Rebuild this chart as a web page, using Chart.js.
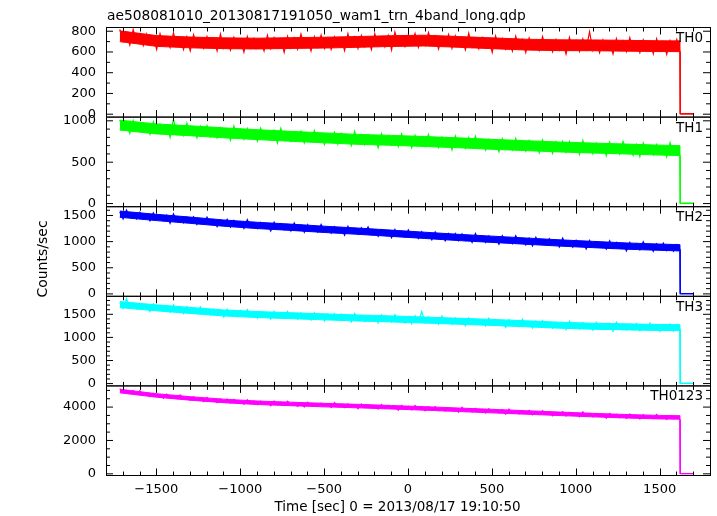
<!DOCTYPE html>
<html>
<head>
<meta charset="utf-8">
<script src="https://cdn.jsdelivr.net/npm/chart.js@4.4.1/dist/chart.umd.min.js"></script>
<style>
  html, body { margin: 0; padding: 0; background: #fff; }
  #wrap { position: relative; width: 717px; height: 516px; }
  #wrap canvas { position: absolute; left: 0; top: 0; }
</style>
</head>
<body>
<div id="wrap">
  <canvas id="c0" width="717" height="516"></canvas>
  <canvas id="c1" width="717" height="516"></canvas>
  <canvas id="c2" width="717" height="516"></canvas>
  <canvas id="c3" width="717" height="516"></canvas>
  <canvas id="c4" width="717" height="516"></canvas>
</div>
<script>
// noisy light curve: upper and lower excursion per 40 s bin (the low one 20 s later)
const binStart = -1718;
const binWidth = 40;

const th0Hi = [
  817,780,816,773,774,743,777,744,784,735, 745,766,723,750,732,773,723,742,719,750,
  730,710,760,738,723,750,732,772,721,748, 762,730,744,730,776,742,760,732,776,744,
  759,792,747,764,778,750,787,752,737,769, 757,732,781,732,739,718,755,729,716,753,
  718,735,702,749,705,720,701,740,711,726, 795,703,715,695,729,706,738,695,717,699,
  728,695,710,720
];
const th0Lo = [
  700,666,699,662,677,625,666,643,666,624, 612,652,635,655,611,639,619,647,598,640,
  642,609,633,650,596,639,627,651,610,647, 635,626,659,613,656,634,652,624,665,650,
  619,668,652,682,645,662,673,628,662,636, 665,621,647,631,648,597,647,628,609,636,
  594,628,614,635,601,619,580,629,606,625, 615,592,630,581,619,605,621,594,622,582,
  610,578,616,596
];
const th1Hi = [
  1011,979,1005,976,947,990,960,937,1020,935, 973,912,935,944,904,913,892,937,893,907,
  870,912,873,883,910,854,864,877,846,884, 845,827,863,848,820,873,821,828,805,844,
  818,804,843,806,824,786,836,787,802,778, 817,781,796,816,764,774,749,785,757,789,
  741,761,741,769,731,746,753,750,716,763, 721,730,702,742,708,751,700,711,734,685,
  714,694,737,682
];
const th1Lo = [
  909,849,885,881,838,853,865,800,842,823, 843,793,826,807,792,822,765,807,777,791,
  754,792,771,732,777,752,776,733,751,761, 712,746,719,750,700,729,712,730,675,728,
  709,688,717,673,708,691,713,675,693,648, 697,669,687,672,645,683,626,665,648,663,
  632,659,614,643,605,644,620,624,593,636, 602,624,576,623,599,625,581,567,611,590,
  612,564,593,570
];
const th2Hi = [
  1565,1604,1552,1559,1516,1551,1504,1507,1530,1466, 1469,1476,1436,1468,1421,1396,1427,1407,1373,1421,
  1362,1365,1336,1372,1340,1322,1357,1313,1327,1283, 1329,1275,1286,1258,1294,1254,1264,1282,1223,1230,
  1200,1232,1198,1226,1172,1189,1163,1187,1143,1153, 1156,1149,1110,1153,1106,1110,1078,1114,1075,1115,
  1057,1065,1083,1029,1054,1029,1069,1009,1025,994, 1024,996,968,1016,985,961,985,959,998,936,
  960,970,929,940
];
const th2Lo = [
  1435,1471,1434,1441,1397,1428,1399,1352,1393,1361, 1379,1328,1339,1342,1285,1313,1279,1306,1250,1274,
  1250,1264,1203,1253,1228,1203,1228,1177,1208,1186, 1203,1160,1175,1124,1171,1139,1153,1134,1101,1136,
  1074,1109,1087,1097,1060,1084,1033,1058,1014,1049, 1019,1019,984,1023,984,1002,948,992,963,985,
  935,917,957,932,950,896,922,894,920,860, 901,899,857,876,888,821,863,844,864,814,
  848,830,814,846
];
const th3Hi = [
  1751,1840,1734,1732,1697,1729,1691,1669,1703,1655, 1666,1618,1663,1603,1611,1577,1613,1573,1584,1604,
  1544,1553,1526,1562,1531,1563,1509,1531,1507,1536, 1493,1507,1513,1508,1469,1517,1471,1478,1448,1489,
  1451,1496,1438,1448,1469,1560,1444,1421,1464,1403, 1421,1389,1422,1394,1367,1418,1386,1361,1385,1357,
  1396,1330,1354,1363,1319,1328,1304,1352,1307,1320, 1283,1327,1287,1299,1330,1270,1283,1299,1266,1309,
  1269,1252,1291,1278
];
const th3Lo = [
  1624,1644,1617,1627,1558,1605,1575,1545,1568,1512, 1542,1516,1531,1483,1494,1438,1486,1452,1468,1450,
  1416,1455,1394,1434,1414,1428,1393,1422,1372,1400, 1358,1398,1370,1373,1338,1382,1343,1365,1312,1361,
  1334,1360,1310,1294,1338,1314,1335,1282,1310,1283, 1312,1250,1294,1293,1250,1272,1284,1215,1257,1236,
  1257,1202,1237,1216,1199,1230,1169,1213,1183,1196, 1159,1200,1178,1137,1187,1161,1189,1145,1165,1178,
  1126,1165,1137,1172
];
const th0123Hi = [
  5104,5001,4984,4981,4846,4824,4747,4777,4698,4724, 4607,4618,4556,4583,4490,4491,4484,4462,4384,4449,
  4359,4359,4302,4363,4292,4360,4258,4269,4299,4204, 4246,4202,4271,4165,4191,4135,4184,4133,4081,4161,
  4103,4058,4094,4043,4104,3990,4025,4034,3955,3964, 3917,3988,3904,3919,3847,3912,3833,3842,3883,3773,
  3782,3797,3731,3790,3712,3671,3723,3689,3629,3713, 3609,3613,3562,3623,3565,3532,3595,3522,3548,3475,
  3557,3466,3492,3450
];
const th0123Lo = [
  4891,4800,4790,4724,4633,4661,4528,4565,4504,4499, 4413,4436,4331,4357,4265,4310,4246,4237,4165,4224,
  4146,4172,4076,4150,4098,4134,4045,4013,4080,4035, 4064,3970,4014,3965,4009,3903,3972,3964,3887,3917,
  3934,3814,3881,3842,3872,3777,3831,3790,3755,3801, 3692,3757,3697,3712,3640,3699,3652,3573,3645,3591,
  3625,3541,3562,3571,3474,3527,3467,3513,3416,3456, 3415,3438,3330,3416,3371,3326,3370,3284,3342,3306,
  3338,3266,3298,3218
];

// solid core of each band, read every ~200 s
const coreTimes = [-1718, -1500, -1300, -1100, -900, -700, -500, -300, -100, 100, 300, 500, 700, 900, 1100, 1300, 1500, 1621];
const th0CoreHi = [804, 758, 744, 736, 733, 738, 742, 749, 757, 762, 749, 736, 723, 717, 716, 712, 708, 707];
const th0CoreLo = [700, 654, 640, 632, 629, 634, 638, 645, 653, 658, 645, 632, 619, 613, 612, 608, 604, 603];
const th1CoreHi = [1008, 962, 940, 915, 893, 873, 854, 836, 824, 810, 794, 776, 760, 744, 731, 719, 706, 700];
const th1CoreLo = [888, 842, 820, 795, 773, 753, 734, 716, 704, 690, 674, 656, 640, 624, 611, 599, 586, 580];
const th2CoreHi = [1585, 1522, 1470, 1415, 1370, 1335, 1295, 1260, 1220, 1180, 1140, 1105, 1070, 1035, 1005, 975, 953, 942];
const th2CoreLo = [1465, 1402, 1350, 1295, 1250, 1215, 1175, 1140, 1100, 1060, 1020, 985, 950, 915, 885, 855, 833, 822];
const th3CoreHi = [1775, 1705, 1650, 1595, 1560, 1535, 1510, 1485, 1465, 1440, 1415, 1390, 1360, 1330, 1307, 1293, 1280, 1275];
const th3CoreLo = [1645, 1575, 1520, 1465, 1430, 1405, 1380, 1355, 1335, 1310, 1285, 1260, 1230, 1200, 1177, 1163, 1150, 1145];
const th0123CoreHi = [5065, 4805, 4625, 4475, 4365, 4295, 4225, 4165, 4095, 4025, 3945, 3865, 3785, 3705, 3625, 3555, 3500, 3486];
const th0123CoreLo = [4855, 4595, 4415, 4265, 4155, 4085, 4015, 3955, 3885, 3815, 3735, 3655, 3575, 3495, 3415, 3345, 3290, 3276];

// after the drop, counts sit near zero
const tailTimes = [1622.5, 1700];
const tailLevels = [4, 3, 4, 5, 15];

const bandNames = ['TH0', 'TH1', 'TH2', 'TH3', 'TH0123'];
const bandHi = [th0Hi, th1Hi, th2Hi, th3Hi, th0123Hi];
const bandLo = [th0Lo, th1Lo, th2Lo, th3Lo, th0123Lo];
const coreHi = [th0CoreHi, th1CoreHi, th2CoreHi, th3CoreHi, th0123CoreHi];
const coreLo = [th0CoreLo, th1CoreLo, th2CoreLo, th3CoreLo, th0123CoreLo];
const bandColors = ['#ff0000', '#00ff00', '#0000ff', '#00ffff', '#ff00ff'];
const yMins = [-28, -38, -46, -50, -100];
const yMaxs = [836, 1045, 1668, 1890, 5270];
const yTickLabels = [
  [0, 200, 400, 600, 800],
  [0, 500, 1000],
  [0, 500, 1000, 1500],
  [0, 500, 1000, 1500],
  [0, 2000, 4000]
];
const yMinorSteps = [100, 100, 100, 100, 500];
const xTickLabels = [-1500, -1000, -500, 0, 500, 1000, 1500];

const plotTitle = 'ae508081010_20130817191050_wam1_trn_4band_long.qdp';
const xTitle = 'Time [sec] 0 = 2013/08/17 19:10:50';
const yTitle = 'Counts/sec';

const H = 516;
const panelTop0 = 27.5, panelH = 89.6;
const FONT = '"DejaVu Sans", sans-serif';

function fmt(v) {
  return v < 0 ? '\u2212' + Math.abs(v) : String(v);
}

function withTail(pts, tail) {
  tailTimes.forEach(t => pts.push({ x: t, y: tail }));
  return pts;
}

function zigzag(hi, lo, tail) {
  const pts = [];
  hi.forEach((v, k) => {
    const t = binStart + binWidth * k;
    pts.push({ x: t, y: v });
    pts.push({ x: t + binWidth / 2, y: lo[k] });
  });
  return withTail(pts, tail);
}

function core(vals, tail) {
  return withTail(vals.map((v, k) => ({ x: coreTimes[k], y: v })), tail);
}

// inward ticks, frame and band label, the way qdp draws them
const framePlugin = {
  id: 'qdpFrame',
  afterDraw(chart, args, opts) {
    const { ctx, chartArea: a } = chart;
    const x = chart.scales.x, y = chart.scales.y;
    ctx.save();
    ctx.strokeStyle = '#000';
    ctx.lineWidth = 1;
    ctx.strokeRect(Math.round(a.left) + 0.5, a.top, Math.round(a.right - a.left), a.bottom - a.top);
    ctx.beginPath();
    for (let v = -1700; v <= 1700; v += 100) {
      const px = Math.round(x.getPixelForValue(v)) + 0.5;
      const len = v % 500 === 0 ? 7 : 4;
      ctx.moveTo(px, a.top); ctx.lineTo(px, a.top + len);
      ctx.moveTo(px, a.bottom); ctx.lineTo(px, a.bottom - len);
    }
    for (let v = 0; v <= y.max; v += opts.minor) {
      const py = y.getPixelForValue(v);
      const len = v % opts.major === 0 ? 7 : 4;
      ctx.moveTo(a.left, py); ctx.lineTo(a.left + len, py);
      ctx.moveTo(a.right, py); ctx.lineTo(a.right - len, py);
    }
    ctx.stroke();
    ctx.fillStyle = '#000';
    ctx.font = '13.5px ' + FONT;
    ctx.textAlign = 'right';
    ctx.textBaseline = 'middle';
    ctx.fillText(opts.label, a.right - 7, a.top + 11);
    if (opts.title) {
      ctx.font = '13.8px ' + FONT;
      ctx.textAlign = 'left';
      ctx.textBaseline = 'alphabetic';
      ctx.fillText(opts.title, 107, 19.5);
    }
    if (opts.yTitle) {
      ctx.translate(46.5, 259);
      ctx.rotate(-Math.PI / 2);
      ctx.font = '14px ' + FONT;
      ctx.textAlign = 'center';
      ctx.textBaseline = 'alphabetic';
      ctx.fillText(opts.yTitle, 0, 0);
      ctx.setTransform(1, 0, 0, 1, 0, 0);
    }
    if (opts.xTitle) {
      ctx.font = '13.5px ' + FONT;
      ctx.textAlign = 'center';
      ctx.textBaseline = 'alphabetic';
      ctx.fillText(opts.xTitle, 397.5, 510.5);
    }
    ctx.restore();
  }
};

bandNames.forEach((name, i) => {
  const top = panelTop0 + panelH * i;
  const bottom = top + panelH;
  const last = i === bandNames.length - 1;
  const color = bandColors[i];

  new Chart(document.getElementById('c' + i), {
    type: 'line',
    data: {
      datasets: [
        { data: core(coreLo[i], tailLevels[i]), borderColor: color, borderWidth: 1,
          pointRadius: 0, tension: 0, fill: false },
        { data: core(coreHi[i], tailLevels[i]), borderColor: color, borderWidth: 1,
          backgroundColor: color, pointRadius: 0, tension: 0, fill: '-1' },
        { data: zigzag(bandHi[i], bandLo[i], tailLevels[i]), borderColor: color, borderWidth: 1.2,
          pointRadius: 0, tension: 0, fill: false }
      ]
    },
    options: {
      responsive: false,
      animation: false,
      events: [],
      layout: { padding: { left: 0, right: 7, top: top, bottom: last ? 0 : H - bottom } },
      plugins: {
        legend: { display: false },
        tooltip: { enabled: false },
        qdpFrame: {
          label: name,
          major: yTickLabels[i][1],
          minor: yMinorSteps[i],
          title: i === 0 ? plotTitle : null,
          yTitle: i === 2 ? yTitle : null,
          xTitle: last ? xTitle : null
        }
      },
      scales: {
        x: {
          type: 'linear',
          min: -1800,
          max: 1800,
          display: last,
          grid: { display: false, drawTicks: false },
          border: { display: false },
          ticks: {
            color: '#000',
            padding: 6,
            maxRotation: 0,
            font: { family: FONT, size: 13 },
            callback: v => fmt(v)
          },
          afterBuildTicks: s => { s.ticks = xTickLabels.map(v => ({ value: v })); },
          afterFit: s => { if (last) s.height = H - bottom; }
        },
        y: {
          min: yMins[i],
          max: yMaxs[i],
          grid: { display: false, drawTicks: false },
          border: { display: false },
          ticks: {
            color: '#000',
            padding: 10,
            font: { family: FONT, size: 13 },
            callback: v => String(v)
          },
          afterBuildTicks: s => { s.ticks = yTickLabels[i].map(v => ({ value: v })); },
          afterFit: s => { s.width = 106; }
        }
      }
    },
    plugins: [framePlugin]
  });
});
</script>
</body>
</html>
